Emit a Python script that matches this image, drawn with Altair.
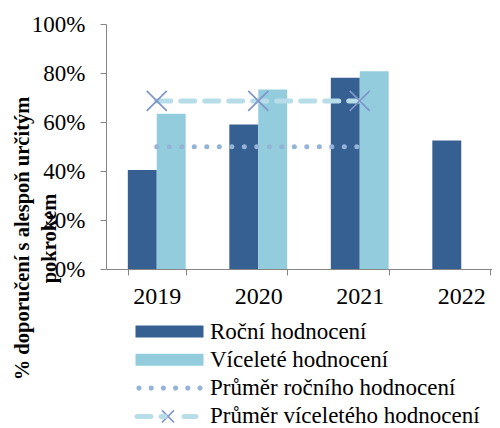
import altair as alt
import pandas as pd

# ---- data ----
years = ["2019", "2020", "2021", "2022"]
rocni = [40.4, 59.0, 78.1, 52.4]          # Roční hodnocení (%)
vicelete = [63.4, 73.3, 80.7, None]       # Víceleté hodnocení (%)
avg_years = ["2019", "2020", "2021"]
avg_rocni = [49.9, 49.9, 49.9]            # Průměr ročního hodnocení (%)
avg_vicelete = [68.6, 68.6, 68.6]         # Průměr víceletého hodnocení (%)
y_ticks = [0, 20, 40, 60, 80, 100]

series = ["Roční hodnocení", "Víceleté hodnocení",
          "Průměr ročního hodnocení", "Průměr víceletého hodnocení"]
colors = ["#366092", "#93CDDD", "#95B3D7", "#B7DEE8"]
marker_color = "#7F96CB"
xkeys = ["k1", "k2", "k3", "k4"]

bar_rows = []
for yr, r, v in zip(years, rocni, vicelete):
    bar_rows.append({"year": yr, "series": series[0], "value": r / 100})
    if v is not None:
        bar_rows.append({"year": yr, "series": series[1], "value": v / 100})
bars_df = pd.DataFrame(bar_rows)

avg_r_df = pd.DataFrame({"year": avg_years, "series": series[2],
                         "value": [a / 100 for a in avg_rocni]})
avg_v_df = pd.DataFrame({"year": avg_years, "series": series[3],
                         "value": [a / 100 for a in avg_vicelete], "xkey": "k4"})

FONT = "Liberation Serif"
GRAY = "#868686"
PLOT_W, PLOT_H = 386, 245      # visible plot width (svg is clipped at the window edge)
X_RANGE = 406                  # full extent of the four year bands

x_scale = alt.Scale(domain=years, range=[0, X_RANGE], paddingInner=0.43, paddingOuter=0.215)
y_scale = alt.Scale(domain=[0, 1])

x_enc = alt.X("year:N", scale=x_scale, sort=years,
              axis=alt.Axis(title=None, labelAngle=0, labelFont=FONT, labelFontSize=24,
                            labelColor="black", labelPadding=9, tickBand="extent",
                            tickSize=6, tickColor=GRAY, domainColor=GRAY))
y_enc = alt.Y("value:Q", scale=y_scale,
              axis=alt.Axis(title=["% doporučení s alespoň určitým", "pokrokem"],
                            titleFont=FONT, titleFontSize=20.5, titleFontWeight="bold",
                            titleColor="black", titleX=-94, titleY=214,
                            titleBaseline="top", titleAlign="center", titleAngle=270,
                            titleLineHeight=27,
                            values=[t / 100 for t in y_ticks], format=".0%",
                            labelFont=FONT, labelFontSize=23, labelColor="black",
                            labelPadding=15, tickSize=6, tickColor=GRAY,
                            domainColor=GRAY, grid=False))

bars = alt.Chart(bars_df).mark_bar().encode(
    x=x_enc, y=y_enc,
    xOffset=alt.XOffset("series:N", scale=alt.Scale(domain=series[:2], paddingInner=0, paddingOuter=0)),
    fill=alt.Fill("series:N", scale=alt.Scale(domain=series[:2], range=colors[:2]), legend=None),
)

dotted = alt.Chart(avg_r_df).mark_line(strokeWidth=5, strokeCap="round", strokeDash=[0.1, 12.4]).encode(
    x=alt.X("year:N", scale=x_scale), y=alt.Y("value:Q", scale=y_scale),
    color=alt.value(colors[2]),
)

dashed = alt.Chart(avg_v_df).mark_line(strokeWidth=5, strokeCap="round", strokeDash=[14, 10]).encode(
    x=alt.X("year:N", scale=x_scale), y=alt.Y("value:Q", scale=y_scale),
    color=alt.value(colors[3]),
)

# ---- legend symbol paths (unit = 10 px at symbolSize 400) ----
def stadium(x1, x2, r=0.25):
    a, b = x1 + r, x2 - r
    return f"M{a},{-r}H{b}A{r},{r} 0 0 1 {b},{r}H{a}A{r},{r} 0 0 1 {a},{-r}Z"

def dot(c, r=0.26):
    return f"M{c - r},0A{r},{r} 0 1,0 {c + r},0A{r},{r} 0 1,0 {c - r},0Z"

rect_path = "M-3.4,-0.6H3.4V0.6H-3.4Z"
dots_path = "".join(dot(c) for c in [-3.05, -1.83, -0.61, 0.61, 1.83, 3.05])
dash_path = stadium(-3.5, -1.6) + stadium(-1.1, -0.2) + stadium(1.2, 2.9)
x_legend_path = "M-0.6,-0.6L0.6,0.6M-0.6,0.6L0.6,-0.6"

LX, LY = 52, 296
ROW_PAD = 4.3
legend_main = alt.Legend(title=None, orient="none", legendX=LX, legendY=LY, padding=0,
                         symbolSize=400, symbolStrokeWidth=0, symbolOpacity=1,
                         labelFont=FONT, labelFontSize=23, labelColor="black",
                         labelOffset=29, labelLimit=0, rowPadding=ROW_PAD)

legend_dummy = alt.Chart(bars_df).transform_filter("false").mark_point(filled=True, opacity=1).encode(
    x=alt.X("year:N", scale=x_scale), y=alt.Y("value:Q", scale=y_scale),
    color=alt.Color("series:N", scale=alt.Scale(domain=series, range=colors), legend=legend_main),
    shape=alt.Shape("series:N", scale=alt.Scale(domain=series,
                    range=[rect_path, rect_path, dots_path, dash_path]), legend=legend_main),
)

markers = alt.Chart(avg_v_df).mark_point(shape="M-1,-1L1,1M-1,1L1,-1", size=400, filled=False,
                                         strokeWidth=1.7, opacity=1).encode(
    x=alt.X("year:N", scale=x_scale), y=alt.Y("value:Q", scale=y_scale),
    stroke=alt.Stroke("xkey:N", scale=alt.Scale(domain=xkeys,
                      range=["transparent", "transparent", "transparent", marker_color]),
                      legend=alt.Legend(title=None, orient="none", legendX=LX - 1.5, legendY=LY,
                                        padding=0, symbolSize=400, symbolStrokeWidth=1.5,
                                        symbolType=x_legend_path, symbolOpacity=1,
                                        labelExpr="''",
                                        labelFont=FONT, labelFontSize=23, labelColor="transparent",
                                        labelOffset=29, labelLimit=0, rowPadding=ROW_PAD)),
)

SVG_H = 430
chart = alt.layer(bars, dotted, dashed, markers, legend_dummy).properties(
    width=PLOT_W, height=PLOT_H, background="white",
    autosize=alt.AutoSizeParams(type="none"),
    padding={"left": 98, "top": 16, "right": 0, "bottom": SVG_H - 16 - PLOT_H},
).configure_view(stroke=None)

chart.save("out.html", embed_options={"renderer": "svg", "actions": False})
